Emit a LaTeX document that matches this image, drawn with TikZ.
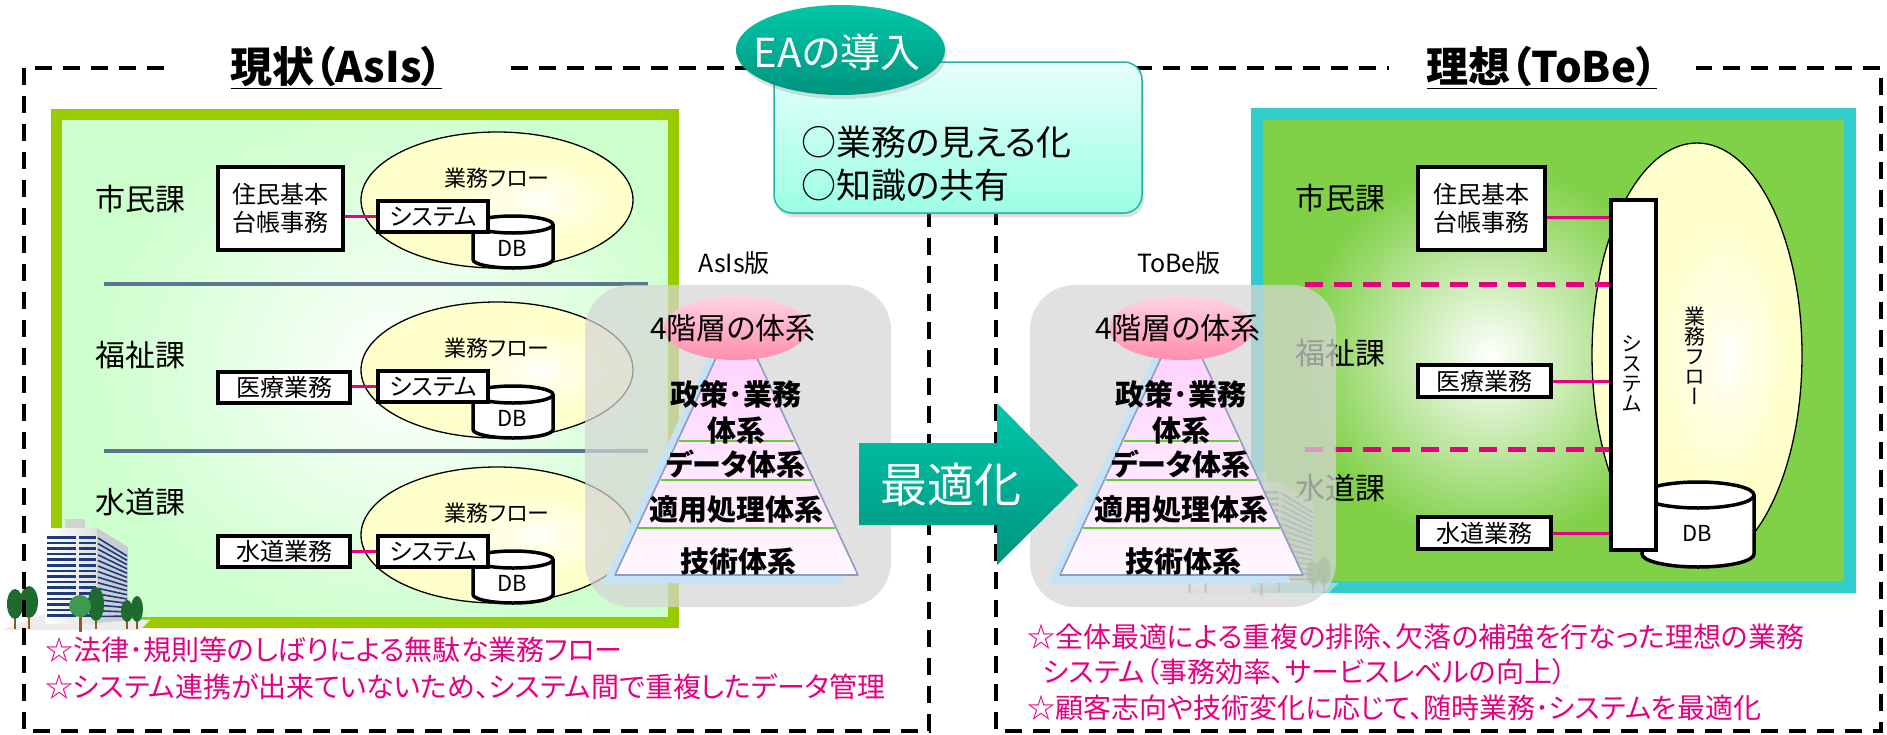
\documentclass[tikz,border=0pt]{standalone}
\usepackage{fontspec}
\setmainfont{Noto Sans CJK JP}[RawFeature=+palt]
\newfontfamily\vertjp{Noto Sans CJK JP}[RawFeature=+vert]
\usepackage{tikz}
\usetikzlibrary{shapes,calc,shadows}
\definecolor{asisrim}{HTML}{99CC00}
\definecolor{asisfill}{HTML}{CCFFCC}
\definecolor{toberim}{HTML}{33CCCC}
\definecolor{tobefill}{HTML}{80D048}
\definecolor{flowfill}{HTML}{FFFFCC}
\definecolor{linkpink}{HTML}{E4007F}
\definecolor{sepgray}{HTML}{5F7490}
\definecolor{veilgray}{HTML}{D6D6D6}
\definecolor{pyrtop}{HTML}{FFCCFF}
\definecolor{pyrbottom}{HTML}{FFF8FF}
\definecolor{pyredge}{HTML}{8C9DBE}
\definecolor{pyrshadow}{HTML}{C6E2F7}
\definecolor{layergreen}{HTML}{66CC33}
\definecolor{capsulelight}{HTML}{FFD4E2}
\definecolor{capsuledark}{HTML}{FF8DAE}
\definecolor{tealtop}{HTML}{00C8A8}
\definecolor{tealbottom}{HTML}{00937F}
\definecolor{notetop}{HTML}{E6FFFA}
\definecolor{notebottom}{HTML}{9CFFE4}
\definecolor{noterim}{HTML}{23B39E}
\definecolor{towerglass}{HTML}{1F3A78}
\definecolor{towerside}{HTML}{C9CDD6}
\definecolor{treedark}{HTML}{1E6B30}
\definecolor{treelight}{HTML}{3C9B4E}
\definecolor{treetrunk}{HTML}{8B5A2B}
\pgfdeclareradialshading{flowglow}{\pgfpoint{8bp}{0bp}}{color(0bp)=(white); color(4bp)=(white!60!flowfill); color(16bp)=(flowfill); color(50bp)=(flowfill)}
\newcommand{\jpsize}[1]{\fontsize{#1}{#1}\selectfont}
\tikzstyle{zoneframe}=[line width=3.5pt, dash pattern=on 17pt off 11pt]
\tikzstyle{paneltitle}=[fill=white, font=\jpsize{42}\bfseries, minimum height=52pt, inner sep=0pt]
\tikzstyle{deptname}=[font=\jpsize{30}, inner sep=0pt]
\tikzstyle{bizbox}=[draw, line width=4pt, fill=white, font=\fontsize{24}{28}\selectfont, inner sep=0pt, align=center]
\tikzstyle{sysbox}=[bizbox, minimum width=110pt, minimum height=31pt]
\tikzstyle{flowtext}=[font=\jpsize{22}, inner sep=0pt]
\tikzstyle{flowellipse}=[shading=flowglow, draw=black, line width=1.3pt]
\tikzstyle{dbline}=[line width=3.5pt]
\tikzstyle{dbtext}=[font=\jpsize{22}, inner sep=0pt]
\tikzstyle{verttext}=[font=\vertjp\fontsize{21}{20}\selectfont, align=center, inner sep=0pt]
\tikzstyle{pinklink}=[linkpink, line width=3pt]
\tikzstyle{pinkdash}=[linkpink, line width=5pt, dash pattern=on 18pt off 11pt]
\tikzstyle{sepline}=[sepgray, line width=4pt]
\tikzstyle{veil}=[fill=veilgray, fill opacity=0.72, rounded corners=45pt]
\tikzstyle{pyramidface}=[top color=pyrtop, bottom color=pyrbottom, draw=pyredge, line width=1.6pt, line join=round]
\tikzstyle{layerline}=[layergreen, line width=2.5pt]
\tikzstyle{layertext}=[font=\fontsize{29}{36}\selectfont\bfseries, align=center, inner sep=0pt]
\tikzstyle{capsuletext}=[font=\jpsize{30}, inner sep=0pt]
\tikzstyle{versionlabel}=[font=\jpsize{25}, inner sep=0pt]
\tikzstyle{notebox}=[rectangle, rounded corners=18pt, draw=noterim, line width=1.5pt, top color=notetop, bottom color=notebottom, minimum width=368pt, minimum height=151pt, drop shadow={opacity=0.25, shadow xshift=2pt, shadow yshift=-4pt}]
\tikzstyle{notetext}=[font=\fontsize{35}{43}\selectfont, align=left, anchor=west, inner sep=0pt]
\tikzstyle{pinknote}=[linkpink, font=\jpsize{28}, anchor=west, inner sep=0pt]
\newcommand{\dbcan}[6]{
	\draw[dbline, fill=white] (#2-#5,#3) -- (#2-#5,#4) arc[start angle=180, end angle=360, x radius=#5, y radius=#6] -- (#2+#5,#3);
	\draw[dbline, fill=white] (#2,#3) ellipse[x radius=#5, y radius=#6];
	\coordinate (#1) at (#2,#4);
}
\newcommand{\bizflow}[3]{
	\shadedraw[flowellipse] (#2,#3) ellipse[x radius=136, y radius=68];
	\node[flowtext] (#1flow) at (#2,#3+22) {業務フロー};
	\dbcan{#1db}{#2+16}{#3-24.5}{#3-59.5}{40}{8.5}
	\node[dbtext] (#1dbtext) at (#2+15,#3-48) {DB};
	\node[sysbox] (#1sys) at (#2-64,#3-16.5) {システム};
}
\newcommand{\officetower}{
	\fill[gray!15] (2,-630) -- (140,-630) -- (150,-620) -- (45,-614) -- cycle;
	\fill[gray!35] (65,-519) rectangle (85,-529);
	\fill[towerside] (97,-528) -- (128,-547) -- (128,-620) -- (97,-623) -- cycle;
	\shade[left color=white, right color=gray!25] (45,-528) rectangle (97,-623);
	\foreach \k in {0,...,14} {
		\fill[towerglass] (47,-536-5.6*\k) rectangle (76,-538.5-5.6*\k);
		\fill[towerglass] (79,-536-5.6*\k) rectangle (96,-538.5-5.6*\k);
		\draw[towerglass, line width=1.6pt] (98,-538-5.6*\k) -- (127,-556-4.3*\k);
	}
	\foreach \tx/\ty/\rx/\ry in {15/-604/8/15, 29/-602/9/16, 96/-604/8/17, 127/-611/6/11, 137/-609/6/13} {
		\fill[treetrunk] (\tx-1.2,-612) rectangle (\tx+1.2,-629);
		\fill[treedark] (\tx,\ty) ellipse[x radius=\rx, y radius=\ry];
	}
	\fill[treetrunk] (79,-612) rectangle (81.5,-632);
	\fill[treelight] (80,-606) ellipse[x radius=11, y radius=11];
}
\newcommand{\layerpyramid}[2]{
	\node[versionlabel] (#1label) at (734,-263) {#2};
	\fill[veil] (585,-285) rectangle (891,-607);
	\fill[pyrshadow] (724.5,-322) -- (603,-583) -- (846,-583) -- cycle;
	\coordinate (#1apex) at (736.5,-314);
	\coordinate (#1left) at (615,-575);
	\coordinate (#1right) at (858,-575);
	\shadedraw[pyramidface] (#1apex) -- (#1left) -- (#1right) -- cycle;
	\foreach \lev in {0.4866,0.636,0.82}
		\draw[layerline] ($(#1apex)!\lev!(#1left)+(1.5,0)$) -- ($(#1apex)!\lev!(#1right)-(1.5,0)$);
	\shade[top color=capsulelight, bottom color=capsuledark] (736,-328) ellipse[x radius=72, y radius=32];
	\node[capsuletext] (#1top) at (733,-328) {4階層の体系};
	\node[layertext] (#1policy) at (736,-412) {政策･業務\\体系};
	\node[layertext] (#1data) at (736,-464) {データ体系};
	\node[layertext] (#1app) at (736,-510) {適用処理体系};
	\node[layertext] (#1tech) at (738,-561) {技術体系};
}

\begin{document}
\begin{tikzpicture}[x=1pt,y=1pt]
	\useasboundingbox (0,0) rectangle (1887,-734);

	\begin{scope}
		\clip (62,-120) rectangle (668,-617);
		\fill[asisfill] (62,-120) rectangle (668,-617);
		\shade[inner color=white, outer color=asisfill] (80,-650) rectangle (720,-90);
	\end{scope}
	\draw[asisrim, line width=11pt] (56.5,-114.5) rectangle (673.5,-622.5);
	\node[deptname] (shimin) at (140,-199) {市民課};
	\node[deptname] (fukushi) at (140,-355) {福祉課};
	\node[deptname] (suido) at (140,-502) {水道課};
	\draw[sepline] (104,-284) -- (648,-284);
	\draw[sepline] (104,-451) -- (648,-451);
	\bizflow{shimin}{497}{-200}
	\bizflow{fukushi}{497}{-370}
	\bizflow{suido}{497}{-535}
	\node[bizbox, minimum width=125pt, minimum height=83pt] (shiminbox) at (280.5,-208.5) {住民基本\\台帳事務};
	\node[bizbox, minimum width=132pt, minimum height=31pt] (fukushibox) at (284,-387.5) {医療業務};
	\node[bizbox, minimum width=132pt, minimum height=31pt] (suidobox) at (284,-551.5) {水道業務};
	\draw[pinklink] (shiminsys.west -| shiminbox.east) -- (shiminsys.west);
	\draw[pinklink] (fukushisys.west -| fukushibox.east) -- (fukushisys.west);
	\draw[pinklink] (suidosys.west -| suidobox.east) -- (suidosys.west);
	\officetower

	\begin{scope}
		\clip (1263,-120) rectangle (1844,-581);
		\fill[tobefill] (1263,-120) rectangle (1844,-581);
		\shade[inner color=white, outer color=tobefill] (1300,-545) rectangle (1680,-165);
	\end{scope}
	\draw[toberim, line width=12pt] (1257,-114) rectangle (1850,-587);
	\node[deptname] (rshimin) at (1340,-198) {市民課};
	\node[deptname] (rfukushi) at (1340,-353) {福祉課};
	\node[deptname] (rsuido) at (1340,-488) {水道課};
	\shadedraw[flowellipse] (1697,-355) ellipse[x radius=105, y radius=212];
	\node[verttext] (rflow) at (1695,-356) {業\\務\\フ\\ロ\\ー};
	\dbcan{rdb}{1698}{-495}{-554}{56}{13}
	\node[dbtext] (rdbtext) at (1697,-533) {DB};
	\node[bizbox, minimum width=45pt, minimum height=350pt] (rsysbar) at (1633.5,-375) {};
	\node[verttext] (rsystext) at (1632,-374) {シ\\ス\\テ\\ム};
	\node[bizbox, minimum width=127pt, minimum height=83pt] (rshiminbox) at (1481.5,-208.5) {住民基本\\台帳事務};
	\node[bizbox, minimum width=133pt, minimum height=32pt] (rfukushibox) at (1484.5,-381) {医療業務};
	\node[bizbox, minimum width=133pt, minimum height=32pt] (rsuidobox) at (1484.5,-533) {水道業務};
	\coordinate (rshiminport) at ([yshift=-8.5pt]rshiminbox.east);
	\draw[pinklink] (rshiminport) -- (rshiminport -| rsysbar.west);
	\draw[pinklink] (rfukushibox.east) -- (rfukushibox.east -| rsysbar.west);
	\draw[pinklink] (rsuidobox.east) -- (rsuidobox.east -| rsysbar.west);
	\coordinate (rsplit1) at (1305,-284);
	\coordinate (rsplit2) at (1305,-449);
	\draw[pinkdash] (rsplit1) -- (rsplit1 -| rsysbar.west);
	\draw[pinkdash] (rsplit2) -- (rsplit2 -| rsysbar.west);
	\begin{scope}[shift={(1173.3,98.8)}, scale=1.1, opacity=0.5]
		\officetower
	\end{scope}

	\draw[zoneframe] (24,-68) rectangle (929,-731);
	\draw[zoneframe] (996,-68) rectangle (1881,-731);

	\layerpyramid{asis}{AsIs版}
	\begin{scope}[xshift=445pt]
		\layerpyramid{tobe}{ToBe版}
	\end{scope}

	\shade[top color=tealtop, bottom color=tealbottom] (859,-443) -- (997,-443) -- (997,-403) -- (1078,-485) -- (997,-565) -- (997,-525) -- (859,-525) -- cycle;
	\node[font=\jpsize{47}, white, inner sep=0pt] (optimize) at (951,-485) {最適化};

	\node[notebox] (notes) at (958,-137.5) {};
	\node[notetext] (notelist) at (801,-164) {○業務の見える化\\○知識の共有};
	\shade[top color=tealtop, bottom color=tealbottom, drop shadow={opacity=0.25, shadow xshift=2pt, shadow yshift=-4pt}] (840.5,-50) ellipse[x radius=104.5, y radius=45];
	\node[font=\jpsize{40}, white, inner sep=0pt] (eatitle) at (837,-52) {EAの導入};

	\node[paneltitle, minimum width=333pt] (asistitle) at (336.5,-68) {\underline{現状（AsIs）}};
	\node[paneltitle, minimum width=307pt] (tobetitle) at (1542,-68) {\underline{理想（ToBe）}};

	\node[pinknote] (asisnote1) at (45,-650) {☆法律･規則等のしばりによる無駄な業務フロー};
	\node[pinknote] (asisnote2) at (45,-687) {☆システム連携が出来ていないため、システム間で重複したデータ管理};
	\node[pinknote] (tobenote1) at (1027,-637) {☆全体最適による重複の排除、欠落の補強を行なった理想の業務};
	\node[pinknote] (tobenote2) at (1043,-672) {システム（事務効率、サービスレベルの向上）};
	\node[pinknote] (tobenote3) at (1027,-708) {☆顧客志向や技術変化に応じて、随時業務･システムを最適化};
\end{tikzpicture}
\end{document}
